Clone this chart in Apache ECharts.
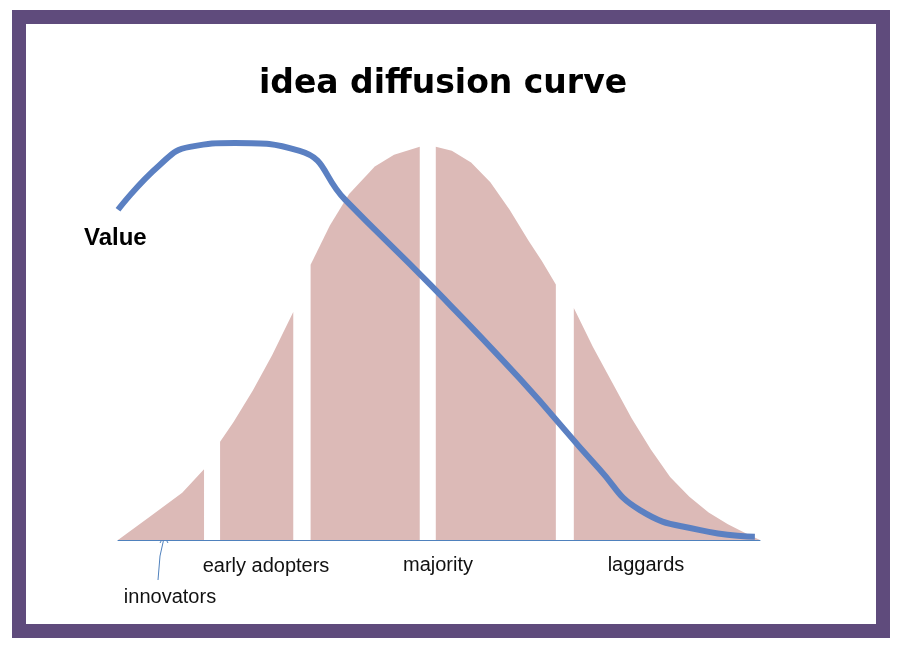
<!DOCTYPE html>
<html><head><meta charset="utf-8">
<script src="https://cdn.jsdelivr.net/npm/echarts@6/dist/echarts.min.js"></script>
<style>html,body{margin:0;padding:0;background:#fff}#c{width:906px;height:646px}</style>
</head><body><div id="c"></div>
<script>
// adopter groups, drawn as separate pieces of the bell
var innovators = [[0,0],[5,6],[10,12],[13.4,18]];
var earlyAdopters = [[15.9,25],[18,30],[21,38],[24,47],[27.3,58]];
var earlyMajority = [[30,70],[33,80],[36,88],[40,95],[43,98],[47,100]];
var lateMajority = [[49.5,100],[52,99],[55,96],[58,91],[61,84],[64,76],[66,71],[68.2,65]];
var laggards = [[71,59],[74,49],[77,40],[80,31],[83,23],[86,16],[89,11],[92,7],[95,4],[98,1.5],[100,0]];
// value curve
var valueCurve = [[0,84],[6.5,95.4],[11.2,100],[18.2,101],[28.3,99],[35.4,86.5],[48.6,65],[62.6,41],[75,18],[81.3,7.6],[90.7,2.5],[99.2,0.8]];
var groupLabels = ['early adopters','majority','laggards','innovators'];

function piece(d){
  return {type:'line',data:d,symbol:'none',lineStyle:{width:0},
    areaStyle:{color:'#dcbab7',opacity:1},silent:true};
}
var lbl = {type:'text',style:{font:'20px "Liberation Sans", Arial',fill:'#111',textAlign:'center'}};
function t(x,y,s){return Object.assign({},lbl,{x:x,y:y,style:Object.assign({},lbl.style,{text:s})});}

echarts.init(document.getElementById('c')).setOption({
  animation:false,
  grid:{left:118,right:146,top:139,bottom:106},
  xAxis:{type:'value',min:0,max:100,axisLine:{lineStyle:{color:'#4f81bd',width:1}},
    axisTick:{show:false},axisLabel:{show:false},splitLine:{show:false}},
  yAxis:{type:'value',min:0,max:102,show:false},
  series:[piece(innovators),piece(earlyAdopters),piece(earlyMajority),piece(lateMajority),piece(laggards),
    {type:'line',data:valueCurve,smooth:true,symbol:'none',z:5,lineStyle:{color:'#5b80c2',width:6}}],
  graphic:[
    {type:'rect',shape:{x:19,y:17,width:864,height:614},style:{fill:'none',stroke:'#5f4b7c',lineWidth:14},z:-1},
    {type:'text',x:443,y:68,style:{text:'idea diffusion curve',font:'bold 33px "DejaVu Sans"',fill:'#000',textAlign:'center'}},
    {type:'text',x:84,y:226,style:{text:'Value',font:'bold 24px "Liberation Sans"',fill:'#000'}},
    t(266,556,groupLabels[0]),t(438,555,groupLabels[1]),t(646,555,groupLabels[2]),t(170,587,groupLabels[3]),
    {type:'polyline',shape:{points:[[158,580],[160,556],[164,538]]},style:{stroke:'#4f81bd',lineWidth:1,fill:'none'}},
    {type:'polyline',shape:{points:[[160,543],[164,536],[168,543]]},style:{stroke:'#4f81bd',lineWidth:1,fill:'none'}}
  ]
});
</script></body></html>
